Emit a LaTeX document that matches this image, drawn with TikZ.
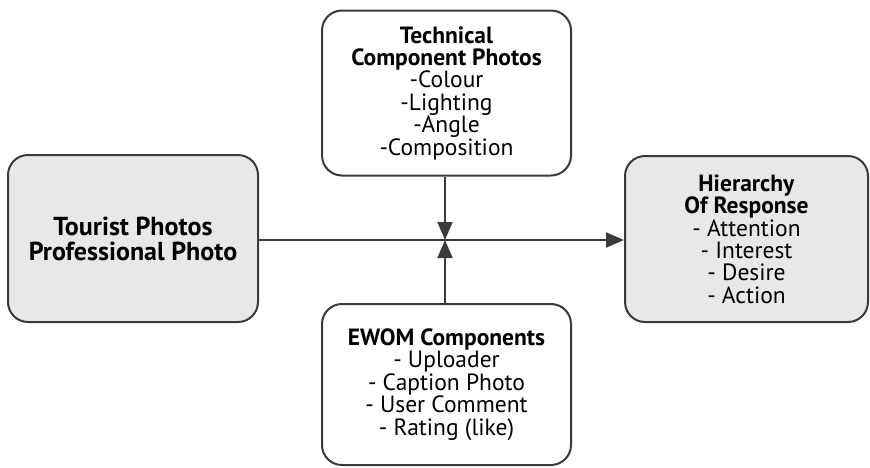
\documentclass[tikz,border=0pt]{standalone}
\usepackage{fontspec}
\setmainfont{PT Sans}
\usetikzlibrary{arrows.meta}
\definecolor{boxgray}{HTML}{E8E8E8}
\definecolor{linegray}{HTML}{3A3A3A}
\tikzset{
  box/.style={draw=linegray, line width=2pt, rounded corners=20pt, align=center,
    inner sep=0pt, font=\fontsize{23.5}{22.4}\selectfont, text=black},
  grayfill/.style={fill=boxgray},
  conn/.style={draw=linegray, line width=2pt, -{Triangle[length=18pt,width=15pt]}},
}
\begin{document}
\begin{tikzpicture}[x=1pt,y=-1pt]
\useasboundingbox (0,0) rectangle (870,467);
\node[box, grayfill, minimum width=250pt, minimum height=167pt, font=\fontsize{26}{25}\selectfont\bfseries] (tourist) at (133,238.5)
  {Tourist Photos\\Professional Photo};
\node[box, minimum width=249pt, minimum height=165pt] (tech) at (446.5,93)
  {\textbf{Technical}\\\textbf{Component Photos}\\-Colour\\-Lighting\\-Angle\\-Composition};
\node[box, minimum width=249pt, minimum height=161pt] (ewom) at (446.5,384.5)
  {\textbf{EWOM Components}\\- Uploader\\- Caption Photo\\- User Comment\\- Rating (like)};
\node[box, grayfill, minimum width=243pt, minimum height=166pt] (hier) at (746.5,239)
  {\textbf{Hierarchy}\\\textbf{Of Response}\\- Attention\\- Interest\\- Desire\\- Action};
\coordinate (mid) at (445,240);
\draw[conn] (tourist.east |- mid) -- (hier.west |- mid);
\draw[conn] (tech.south -| mid) -- (mid);
\draw[conn] (ewom.north -| mid) -- (mid);
\end{tikzpicture}
\end{document}
